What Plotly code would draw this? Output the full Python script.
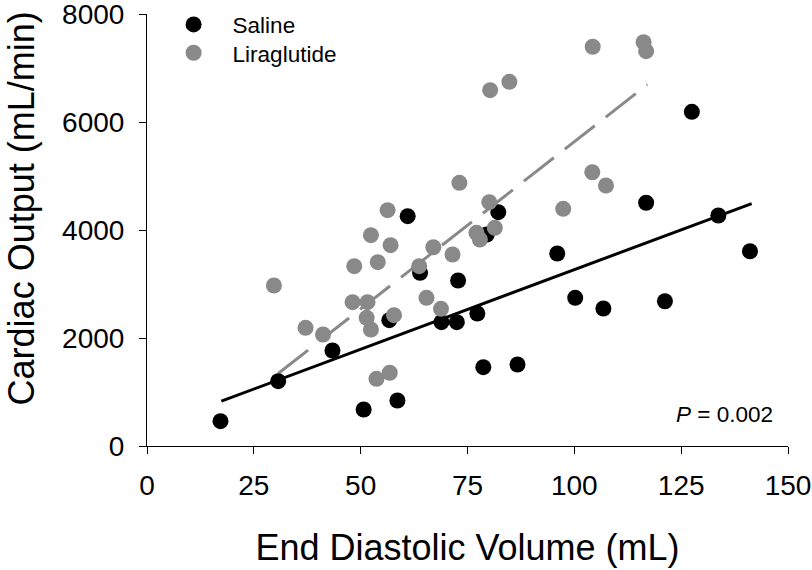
import plotly.graph_objects as go

# Saline (black)
saline_edv = [17.2, 30.7, 43.4, 50.7, 58.6, 56.7, 61.0, 63.9, 68.9, 72.5, 72.8, 77.3,
              78.7, 79.5, 82.2, 86.7, 96.0, 100.2, 106.8, 116.8, 121.2, 127.5, 133.7, 141.1]
saline_co = [459, 1200, 1769, 676, 843, 2330, 4256, 3207, 2293, 2293, 3065, 2454,
             1459, 3917, 4330, 1509, 3565, 2744, 2546, 4504, 2681, 6189, 4269, 3607]

# Liraglutide (grey)
lira_edv = [29.7, 37.1, 41.2, 48.1, 48.5, 51.6, 51.4, 52.4, 52.4, 54.0, 53.7, 56.8,
            56.3, 57.0, 57.8, 63.7, 65.4, 67.0, 68.8, 71.5, 73.1, 77.1, 77.9, 80.1,
            81.4, 80.3, 84.8, 97.4, 104.2, 104.3, 107.4, 116.2, 116.8]
lira_co = [2972, 2189, 2065, 2663, 3330, 2663, 2374, 2157, 3904, 3404, 1244, 1356,
           4367, 3719, 2422, 3330, 2744, 3681, 2541, 3546, 4874, 3948, 3824, 4515,
           4040, 6589, 6744, 4392, 5070, 7393, 4824, 7478, 7311]

# Regression line endpoints
saline_fit_x = [17.4, 141.5]
saline_fit_y = [830, 4490]
lira_fit_x = [30.7, 117.1]
lira_fit_y = [1343, 6694]

x_ticks = [0, 25, 50, 75, 100, 125, 150]
y_ticks = [0, 2000, 4000, 6000, 8000]

BLACK = "#000000"
GREY = "#898989"
FONT = "Liberation Sans, Arial, sans-serif"

W, H = 812, 570
L, R, T, B = 147.3, 24, 14, 123.5
PW, PH = W - L - R, H - T - B

fig = go.Figure()
fig.add_trace(go.Scatter(x=saline_fit_x, y=saline_fit_y, mode="lines",
                         line=dict(color=BLACK, width=3), showlegend=False, hoverinfo="skip"))
fig.add_trace(go.Scatter(x=lira_fit_x, y=lira_fit_y, mode="lines",
                         line=dict(color=GREY, width=3, dash="38px,14px"), showlegend=False, hoverinfo="skip"))
fig.add_trace(go.Scatter(x=saline_edv, y=saline_co, mode="markers", name="Saline",
                         marker=dict(color=BLACK, size=16), legend="legend"))
fig.add_trace(go.Scatter(x=lira_edv, y=lira_co, mode="markers", name="Liraglutide",
                         marker=dict(color=GREY, size=16), legend="legend2"))

leg_common = dict(xanchor="left", yanchor="middle", font=dict(size=22.5, family=FONT),
                  bgcolor="rgba(0,0,0,0)", itemwidth=68)

fig.update_layout(
    width=W, height=H,
    margin=dict(l=L, r=R, t=T, b=B, autoexpand=False),
    paper_bgcolor="white", plot_bgcolor="white",
    font=dict(family=FONT, color="black"),
    showlegend=True,
    legend=dict(x=(154.9 - L) / PW, y=1 - (24.8 - T) / PH, **leg_common),
    legend2=dict(x=(154.9 - L) / PW, y=1 - (53.2 - T) / PH, **leg_common),
    xaxis=dict(range=[0, 150], tickvals=x_ticks, showgrid=False, zeroline=False,
               showline=True, linecolor="black", linewidth=1, automargin=False,
               ticks="outside", ticklen=7, tickcolor="black", tickwidth=1,
               tickfont=dict(size=28, family=FONT), ticklabelstandoff=7,
               ticklabeloverflow="allow",
               title=dict(text="End Diastolic Volume (mL)", font=dict(size=36, family=FONT),
                          standoff=35)),
    yaxis=dict(range=[0, 8000], tickvals=y_ticks, showgrid=False, zeroline=False,
               showline=True, linecolor="black", linewidth=1, automargin=False,
               ticks="outside", ticklen=7, tickcolor="black", tickwidth=1,
               tickfont=dict(size=28, family=FONT), ticklabelstandoff=9,
               ticklabeloverflow="allow"),
    annotations=[
        dict(text="<i>P</i> = 0.002", x=147.0, y=592, xref="x", yref="y",
             xanchor="right", yanchor="middle", showarrow=False,
             font=dict(size=22.5, family=FONT, color="black")),
        dict(text="Cardiac Output (mL/min)", textangle=-90, xref="paper", yref="paper",
             x=(22 - L) / PW, y=(T + PH - 209) / PH, xanchor="center", yanchor="middle",
             showarrow=False, font=dict(size=36, family=FONT, color="black")),
    ],
)

# Remove the browser's default 8px body margin so the figure fills the window exactly.
fig.write_html("out.html", config={"displayModeBar": False},
               post_script="document.body.style.margin='0';")
